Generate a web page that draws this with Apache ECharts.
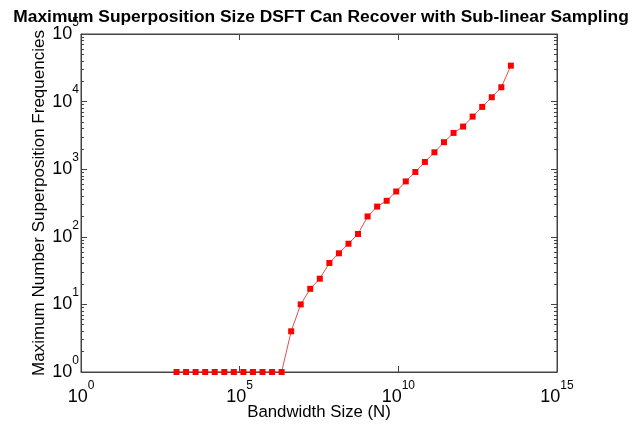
<!DOCTYPE html>
<html>
<head>
<meta charset="utf-8">
<script src="https://cdn.jsdelivr.net/npm/echarts@6/dist/echarts.min.js"></script>
<style>
  html, body { margin: 0; padding: 0; background: #ffffff; }
  #chart { width: 642px; height: 426px; }
</style>
</head>
<body>
<div id="chart"></div>
<script>
// bandwidth N (powers of two)
const bandwidth = [
    1024, 2048, 4096, 8192, 16384, 32768, 65536, 131072, 262144, 524288,
    1048576, 2097152, 4194304, 8388608, 16777216, 33554432, 67108864,
    134217728, 268435456, 536870912, 1073741824, 2147483648, 4294967296,
    8589934592, 17179869184, 34359738368, 68719476736, 137438953472,
    274877906944, 549755813888, 1099511627776, 2199023255552,
    4398046511104, 8796093022208, 17592186044416, 35184372088832
];
// maximum superposition size recovered
const maxFreq = [
    1, 1, 1, 1, 1, 1, 1, 1, 1, 1, 1, 1,
    4, 10, 17, 24, 41, 57, 79, 110, 200, 280, 341, 468,
    660, 910, 1280, 1780, 2510, 3440, 4270, 6000, 8350, 11600, 16300, 34000
];
// minor tick values on the y axis (2..9 per decade)
const yMinorTicks = [];
[1, 10, 100, 1000, 10000].forEach(d => {
    for (let m = 2; m <= 9; m++) yMinorTicks.push(m * d);
});

const fontFamily = '"Liberation Sans", Arial, sans-serif';
const axisColor = '#444444';

// "10" with the exponent raised like a superscript
const powLabel = (v) => '{b|10}{e|' + Math.round(Math.log10(v)) + '}';
const labelRich = {
    b: { fontSize: 18, color: '#000', fontFamily: fontFamily },
    e: { fontSize: 12, color: '#000', fontFamily: fontFamily, padding: [0, 0, 23, 0] }
};

const chart = echarts.init(document.getElementById('chart'));

const option = {
    backgroundColor: '#ffffff',
    animation: false,
    title: {
        text: 'Maximum Superposition Size DSFT Can Recover with Sub-linear Sampling',
        left: 'center',
        top: 4,
        textStyle: { fontSize: 17.4, fontWeight: 'bold', color: '#000', fontFamily: fontFamily }
    },
    grid: {
        left: 81,
        right: 85,
        top: 34,
        bottom: 54,
        outerBoundsMode: 'none',
        containLabel: false,
        show: true,
        borderColor: axisColor,
        borderWidth: 1,
        backgroundColor: 'transparent'
    },
    xAxis: [
        {
            type: 'log',
            logBase: 10,
            min: 1,
            max: 1e15,
            interval: 5,
            position: 'bottom',
            name: 'Bandwidth Size (N)',
            nameLocation: 'middle',
            nameGap: 32,
            nameMoveOverlap: false,
            nameTextStyle: { fontSize: 16.8, color: '#000', fontFamily: fontFamily },
            axisLine: { lineStyle: { color: axisColor } },
            axisTick: { inside: true, length: 6, lineStyle: { color: axisColor } },
            minorTick: { show: false },
            splitLine: { show: false },
            axisLabel: { formatter: powLabel, rich: labelRich, margin: 8 }
        },
        {
            type: 'log',
            logBase: 10,
            min: 1,
            max: 1e15,
            interval: 5,
            position: 'top',
            axisLine: { lineStyle: { color: axisColor } },
            axisTick: { inside: true, length: 6, lineStyle: { color: axisColor } },
            splitLine: { show: false },
            axisLabel: { show: false }
        }
    ],
    yAxis: [
        {
            type: 'log',
            logBase: 10,
            min: 1,
            max: 1e5,
            interval: 1,
            position: 'left',
            name: 'Maximum Number Superposition Frequencies',
            nameLocation: 'middle',
            nameGap: 33,
            nameMoveOverlap: false,
            nameTextStyle: { fontSize: 17, color: '#000', fontFamily: fontFamily },
            axisLine: { lineStyle: { color: axisColor } },
            axisTick: { inside: true, length: 6, lineStyle: { color: axisColor } },
            splitLine: { show: false },
            axisLabel: { formatter: powLabel, rich: labelRich, margin: 2 }
        },
        {
            type: 'log',
            logBase: 10,
            min: 1,
            max: 1e5,
            interval: 1,
            position: 'right',
            axisLine: { lineStyle: { color: axisColor } },
            axisTick: { inside: true, length: 6, lineStyle: { color: axisColor } },
            splitLine: { show: false },
            axisLabel: { show: false }
        },
        {
            type: 'log',
            logBase: 10,
            min: 1,
            max: 1e5,
            position: 'left',
            axisLine: { show: false },
            axisTick: { inside: true, length: 3, customValues: yMinorTicks, lineStyle: { color: axisColor } },
            splitLine: { show: false },
            axisLabel: { show: false }
        },
        {
            type: 'log',
            logBase: 10,
            min: 1,
            max: 1e5,
            position: 'right',
            axisLine: { show: false },
            axisTick: { inside: true, length: 3, customValues: yMinorTicks, lineStyle: { color: axisColor } },
            splitLine: { show: false },
            axisLabel: { show: false }
        }
    ],
    series: [
        {
            type: 'line',
            xAxisIndex: 0,
            yAxisIndex: 0,
            data: bandwidth.map((n, i) => [n, maxFreq[i]]),
            symbol: 'rect',
            symbolSize: 6,
            itemStyle: { color: '#ff0000' },
            lineStyle: { color: '#e05050', width: 1 },
            z: 5
        }
    ]
};

chart.setOption(option);
</script>
</body>
</html>
